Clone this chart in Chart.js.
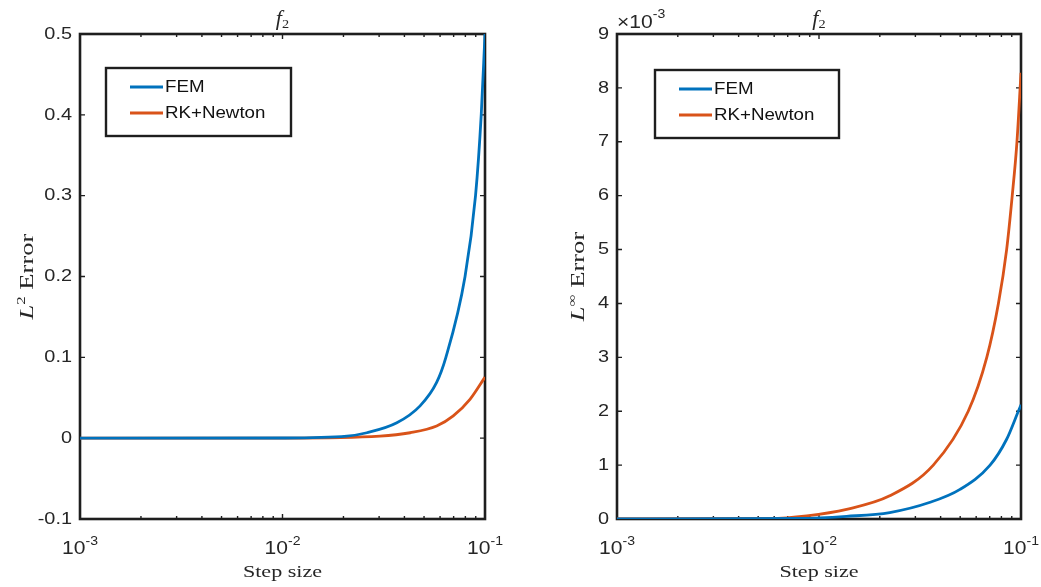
<!DOCTYPE html>
<html>
<head>
<meta charset="utf-8">
<title>Step size convergence</title>
<script src="https://cdn.jsdelivr.net/npm/chart.js@4.4.1/dist/chart.umd.min.js"></script>
<style>
  html, body { margin: 0; padding: 0; background: #fff; }
  #wrap { position: relative; width: 1041px; height: 587px; overflow: hidden; }
  .panel { position: absolute; top: 0; }
  #left { left: 0; }
  #right { left: 520px; }
</style>
</head>
<body>
<div id="wrap">
  <div class="panel" id="left"><canvas id="l2Chart" width="520" height="587"></canvas></div>
  <div class="panel" id="right"><canvas id="linfChart" width="521" height="587"></canvas></div>
</div>
<script>
// L2 error vs step size
const l2FemStep = [0.001, 0.01, 0.0208, 0.0261, 0.0367, 0.0478, 0.0577, 0.0641, 0.0797, 0.0898, 0.0958, 0.1];
const l2FemErr  = [0, 0.0002, 0.0025, 0.0067, 0.019, 0.040, 0.069, 0.1, 0.2, 0.3, 0.4, 0.5];
const l2RkStep  = [0.001, 0.01, 0.0303, 0.0427, 0.0577, 0.0697, 0.0843, 0.1];
const l2RkErr   = [0, 0.0001, 0.0025, 0.0067, 0.015, 0.0275, 0.048, 0.0755];

// L-infinity error vs step size
const linfFemStep = [0.001, 0.008, 0.0137, 0.0224, 0.0355, 0.0499, 0.0703, 0.0849, 0.097, 0.1];
const linfFemErr  = [0, 0.00001, 0.00005, 0.00012, 0.00031, 0.00055, 0.001, 0.00148, 0.002, 0.00212];
const linfRkStep  = [0.001, 0.0057, 0.0087, 0.0137, 0.0224, 0.0368, 0.0548, 0.0677, 0.0773, 0.0849, 0.0905, 0.0955, 0.1];
const linfRkErr   = [0, 0.00001, 0.00006, 0.00018, 0.00043, 0.001, 0.002, 0.003, 0.004, 0.005, 0.006, 0.007, 0.00828];

// x axis ticks: decades get labels, the rest are minor marks
const xDecades = [0.001, 0.01, 0.1];
const xMinorTicks = [0.002, 0.003, 0.004, 0.005, 0.006, 0.007, 0.008, 0.009,
                     0.02, 0.03, 0.04, 0.05, 0.06, 0.07, 0.08, 0.09];

const seriesNames = ['FEM', 'RK+Newton'];
const seriesColors = ['#0072BD', '#D95319'];

const SANS = '"Liberation Sans", Arial, sans-serif';
const SERIF = '"Liberation Serif", "Times New Roman", serif';
const INK = '#262626';
const SX = 1.17; // horizontal widening for text

function toPoints(xs, ys) {
    return xs.map((x, i) => ({ x: x, y: ys[i] }));
}

function wideText(ctx, str, x, y, font, align, sx) {
    ctx.save();
    ctx.font = font;
    ctx.textAlign = align || 'left';
    ctx.translate(x, y);
    ctx.scale(sx || SX, 1);
    ctx.fillText(str, 0, 0);
    ctx.restore();
}

function widthOf(ctx, str, font, sx) {
    ctx.save();
    ctx.font = font;
    const w = ctx.measureText(str).width * (sx || SX);
    ctx.restore();
    return w;
}

// draws a run of text pieces (font + vertical shift) centred on cx
function richRun(ctx, parts, cx, baseY, sx) {
    const widths = parts.map(p => widthOf(ctx, p.t, p.f, sx));
    let x = cx - widths.reduce((a, b) => a + b, 0) / 2;
    parts.forEach((p, i) => {
        wideText(ctx, p.t, x, baseY + (p.dy || 0), p.f, 'left', sx);
        x += widths[i];
    });
}

function makePanel(canvasId, cfg) {
    const frame = {
        id: 'matlabFrame',
        // axes box, ticks and labels go under the curves
        beforeDatasetsDraw(chart) {
            const ctx = chart.ctx;
            const a = chart.chartArea;
            const xs = chart.scales.x, ys = chart.scales.y;
            ctx.save();
            ctx.fillStyle = INK;
            ctx.strokeStyle = '#1e1e1e';
            ctx.textBaseline = 'alphabetic';

            // inward tick marks on all four sides
            ctx.lineWidth = 1.4;
            ctx.beginPath();
            xs.ticks.forEach(t => {
                const px = xs.getPixelForValue(t.value);
                const len = xDecades.includes(t.value) ? 5 : 3;
                ctx.moveTo(px, a.bottom); ctx.lineTo(px, a.bottom - len);
                ctx.moveTo(px, a.top); ctx.lineTo(px, a.top + len);
            });
            ys.ticks.forEach(t => {
                const py = ys.getPixelForValue(t.value);
                ctx.moveTo(a.left, py); ctx.lineTo(a.left + 5, py);
                ctx.moveTo(a.right, py); ctx.lineTo(a.right - 5, py);
            });
            ctx.stroke();

            // box
            ctx.lineWidth = 2.6;
            ctx.strokeRect(a.left, a.top, a.right - a.left, a.bottom - a.top);

            // y tick labels
            ctx.textBaseline = 'middle';
            ys.ticks.forEach(t => {
                const py = ys.getPixelForValue(t.value);
                wideText(ctx, cfg.yFormat(t.value), a.left - 8, py, `17px ${SANS}`, 'right');
            });
            ctx.textBaseline = 'alphabetic';

            // x tick labels as powers of ten
            xDecades.forEach(v => {
                const px = xs.getPixelForValue(v);
                richRun(ctx, [
                    { t: '10', f: `18px ${SANS}` },
                    { t: String(Math.round(Math.log10(v))), f: `12px ${SANS}`, dy: -9 }
                ], px, a.bottom + 35);
            });

            // exponent marker above the y axis
            if (cfg.yExponent) {
                const base = `18px ${SANS}`;
                const w = widthOf(ctx, '\u00d710', base);
                wideText(ctx, '\u00d710', a.left, 28, base, 'left');
                wideText(ctx, cfg.yExponent, a.left + w, 18, `12px ${SANS}`, 'left');
            }

            const cx = (a.left + a.right) / 2;
            const cy = (a.top + a.bottom) / 2;

            // title
            richRun(ctx, [
                { t: 'f', f: `italic 20px ${SERIF}` },
                { t: '2', f: `13px ${SERIF}`, dy: 3 }
            ], cx, 25, 1.1);

            // x axis title
            wideText(ctx, 'Step size', cx, a.bottom + 58, `17px ${SERIF}`, 'center', 1.3);

            // y axis title, rotated
            ctx.save();
            ctx.translate(cfg.yTitleX, cy);
            ctx.rotate(-Math.PI / 2);
            richRun(ctx, [
                { t: 'L', f: `italic 19px ${SERIF}` },
                { t: cfg.yTitleSup, f: `12px ${SERIF}`, dy: -8 },
                { t: ' Error', f: `19px ${SERIF}` }
            ], 0, 6, 1.4);
            ctx.restore();
            ctx.restore();
        },
        // legend sits above the curves
        afterDatasetsDraw(chart) {
            const ctx = chart.ctx;
            const a = chart.chartArea;
            const L = cfg.legend;
            const bx = a.left + L.dx, by = a.top + L.dy;
            ctx.save();
            ctx.fillStyle = '#fff';
            ctx.fillRect(bx, by, L.w, L.h);
            ctx.strokeStyle = '#1e1e1e';
            ctx.lineWidth = 2.4;
            ctx.strokeRect(bx, by, L.w, L.h);
            chart.data.datasets.forEach((ds, i) => {
                const ly = by + 19 + i * 26;
                ctx.strokeStyle = ds.borderColor;
                ctx.lineWidth = 3;
                ctx.beginPath();
                ctx.moveTo(bx + 24, ly);
                ctx.lineTo(bx + 57, ly);
                ctx.stroke();
                ctx.fillStyle = '#111';
                ctx.textBaseline = 'middle';
                wideText(ctx, ds.label, bx + 59, ly + 1, `16px ${SANS}`, 'left');
            });
            ctx.restore();
        }
    };

    return new Chart(document.getElementById(canvasId).getContext('2d'), {
        type: 'line',
        data: {
            datasets: cfg.series.map((s, i) => ({
                label: seriesNames[i],
                data: toPoints(s.step, s.err),
                borderColor: seriesColors[i],
                borderWidth: 2.8,
                pointRadius: 0,
                fill: false,
                cubicInterpolationMode: 'monotone'
            }))
        },
        options: {
            responsive: false,
            animation: false,
            devicePixelRatio: 1,
            layout: { padding: { top: 34, right: cfg.padRight, bottom: 0, left: 0 } },
            scales: {
                x: {
                    type: 'logarithmic',
                    min: 0.001,
                    max: 0.1,
                    grid: { display: false, drawTicks: false },
                    border: { display: false },
                    ticks: { display: false },
                    afterBuildTicks: s => { s.ticks = xDecades.concat(xMinorTicks).map(v => ({ value: v })); },
                    afterFit: s => { s.height = 68; }
                },
                y: {
                    type: 'linear',
                    min: cfg.yMin,
                    max: cfg.yMax,
                    grid: { display: false, drawTicks: false },
                    border: { display: false },
                    ticks: { display: false, stepSize: cfg.yStep },
                    afterFit: s => { s.width = cfg.plotLeft; }
                }
            },
            plugins: {
                legend: { display: false },
                title: { display: false },
                tooltip: { enabled: false }
            }
        },
        plugins: [frame]
    });
}

makePanel('l2Chart', {
    series: [{ step: l2FemStep, err: l2FemErr }, { step: l2RkStep, err: l2RkErr }],
    yMin: -0.1, yMax: 0.5, yStep: 0.1,
    yFormat: v => String(Math.round(v * 10) / 10),
    yTitleSup: '2',
    yTitleX: 27,
    plotLeft: 80,
    padRight: 35,
    legend: { dx: 26, dy: 34, w: 185, h: 68 }
});

makePanel('linfChart', {
    series: [{ step: linfFemStep, err: linfFemErr }, { step: linfRkStep, err: linfRkErr }],
    yMin: 0, yMax: 0.009, yStep: 0.001,
    yFormat: v => String(Math.round(v * 1000)),
    yExponent: '-3',
    yTitleSup: '\u221e',
    yTitleX: 58,
    plotLeft: 97,
    padRight: 20,
    legend: { dx: 38, dy: 36, w: 184, h: 68 }
});
</script>
</body>
</html>
